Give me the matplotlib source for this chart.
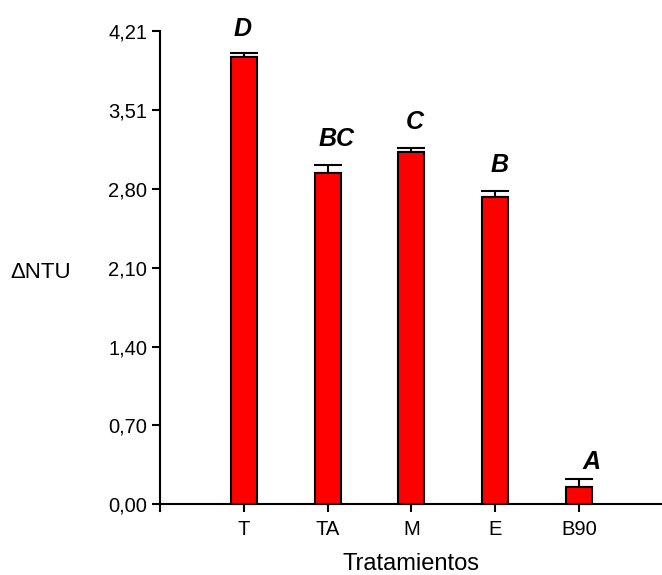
import matplotlib
matplotlib.use("Agg")
import matplotlib.pyplot as plt

plt.rcParams['font.family'] = ['Liberation Sans', 'DejaVu Sans']

categories = ["T", "TA", "M", "E", "B90"]
means = [3.98, 2.95, 3.13, 2.73, 0.15]
errors = [0.035, 0.07, 0.035, 0.06, 0.075]
letters = ["D", "BC", "C", "B", "A"]
ytick_values = [0.00, 0.70, 1.40, 2.10, 2.80, 3.51, 4.21]
ytick_labels = ["0,00", "0,70", "1,40", "2,10", "2,80", "3,51", "4,21"]

# layout-only offsets for the significance letters (points)
letter_dx = [-1.1, 6.5, 2.2, 3.4, 9.4]
letter_dy = [12.2, 13.4, 13.7, 13.7, 7.2]

W, H = 662, 575
fig = plt.figure(figsize=(W / 100, H / 100), dpi=100)
ax = fig.add_axes([160 / W, 1 - 511 / H, 501 / W, 480 / H])

x = list(range(1, len(categories) + 1))
ax.bar(x, means, width=0.31, color="#ff0000", edgecolor="black", linewidth=1.5, zorder=3)
ax.errorbar(x, means, yerr=[[0] * len(errors), errors], fmt="none", ecolor="black",
            elinewidth=1.5, capsize=10.3, capthick=1.5, zorder=2)

for xi, m, e, lab, dx, dy in zip(x, means, errors, letters, letter_dx, letter_dy):
    ax.annotate(lab, (xi, m + e), xytext=(dx, dy), textcoords="offset points",
                ha="center", va="baseline", fontsize=18, fontweight="bold", fontstyle="italic")

ax.spines['top'].set_visible(False)
ax.spines['right'].set_visible(False)
ax.spines['bottom'].set_position(('data', 0))
ax.spines['left'].set_linewidth(1.5)
ax.spines['bottom'].set_linewidth(1.5)

ax.set_xlim(0, 5.98)
ax.set_ylim(-0.062, 4.21)
ax.set_xticks(x)
ax.set_xticklabels(categories, fontsize=14.5)
ax.set_yticks(ytick_values)
ax.set_yticklabels(ytick_labels, fontsize=14.5)
ax.tick_params(axis='both', direction='out', length=5.8, width=1.5, colors='black')
ax.tick_params(axis='x', pad=6)
ax.tick_params(axis='y', pad=3.5)

fig.text(411 / W, 1 - 570 / H, "Tratamientos", fontsize=17, ha="center", va="baseline")
fig.text(10 / W, 1 - 278 / H, "ΔNTU", fontsize=16, ha="left", va="baseline")

fig.savefig("out.png", dpi=100)
